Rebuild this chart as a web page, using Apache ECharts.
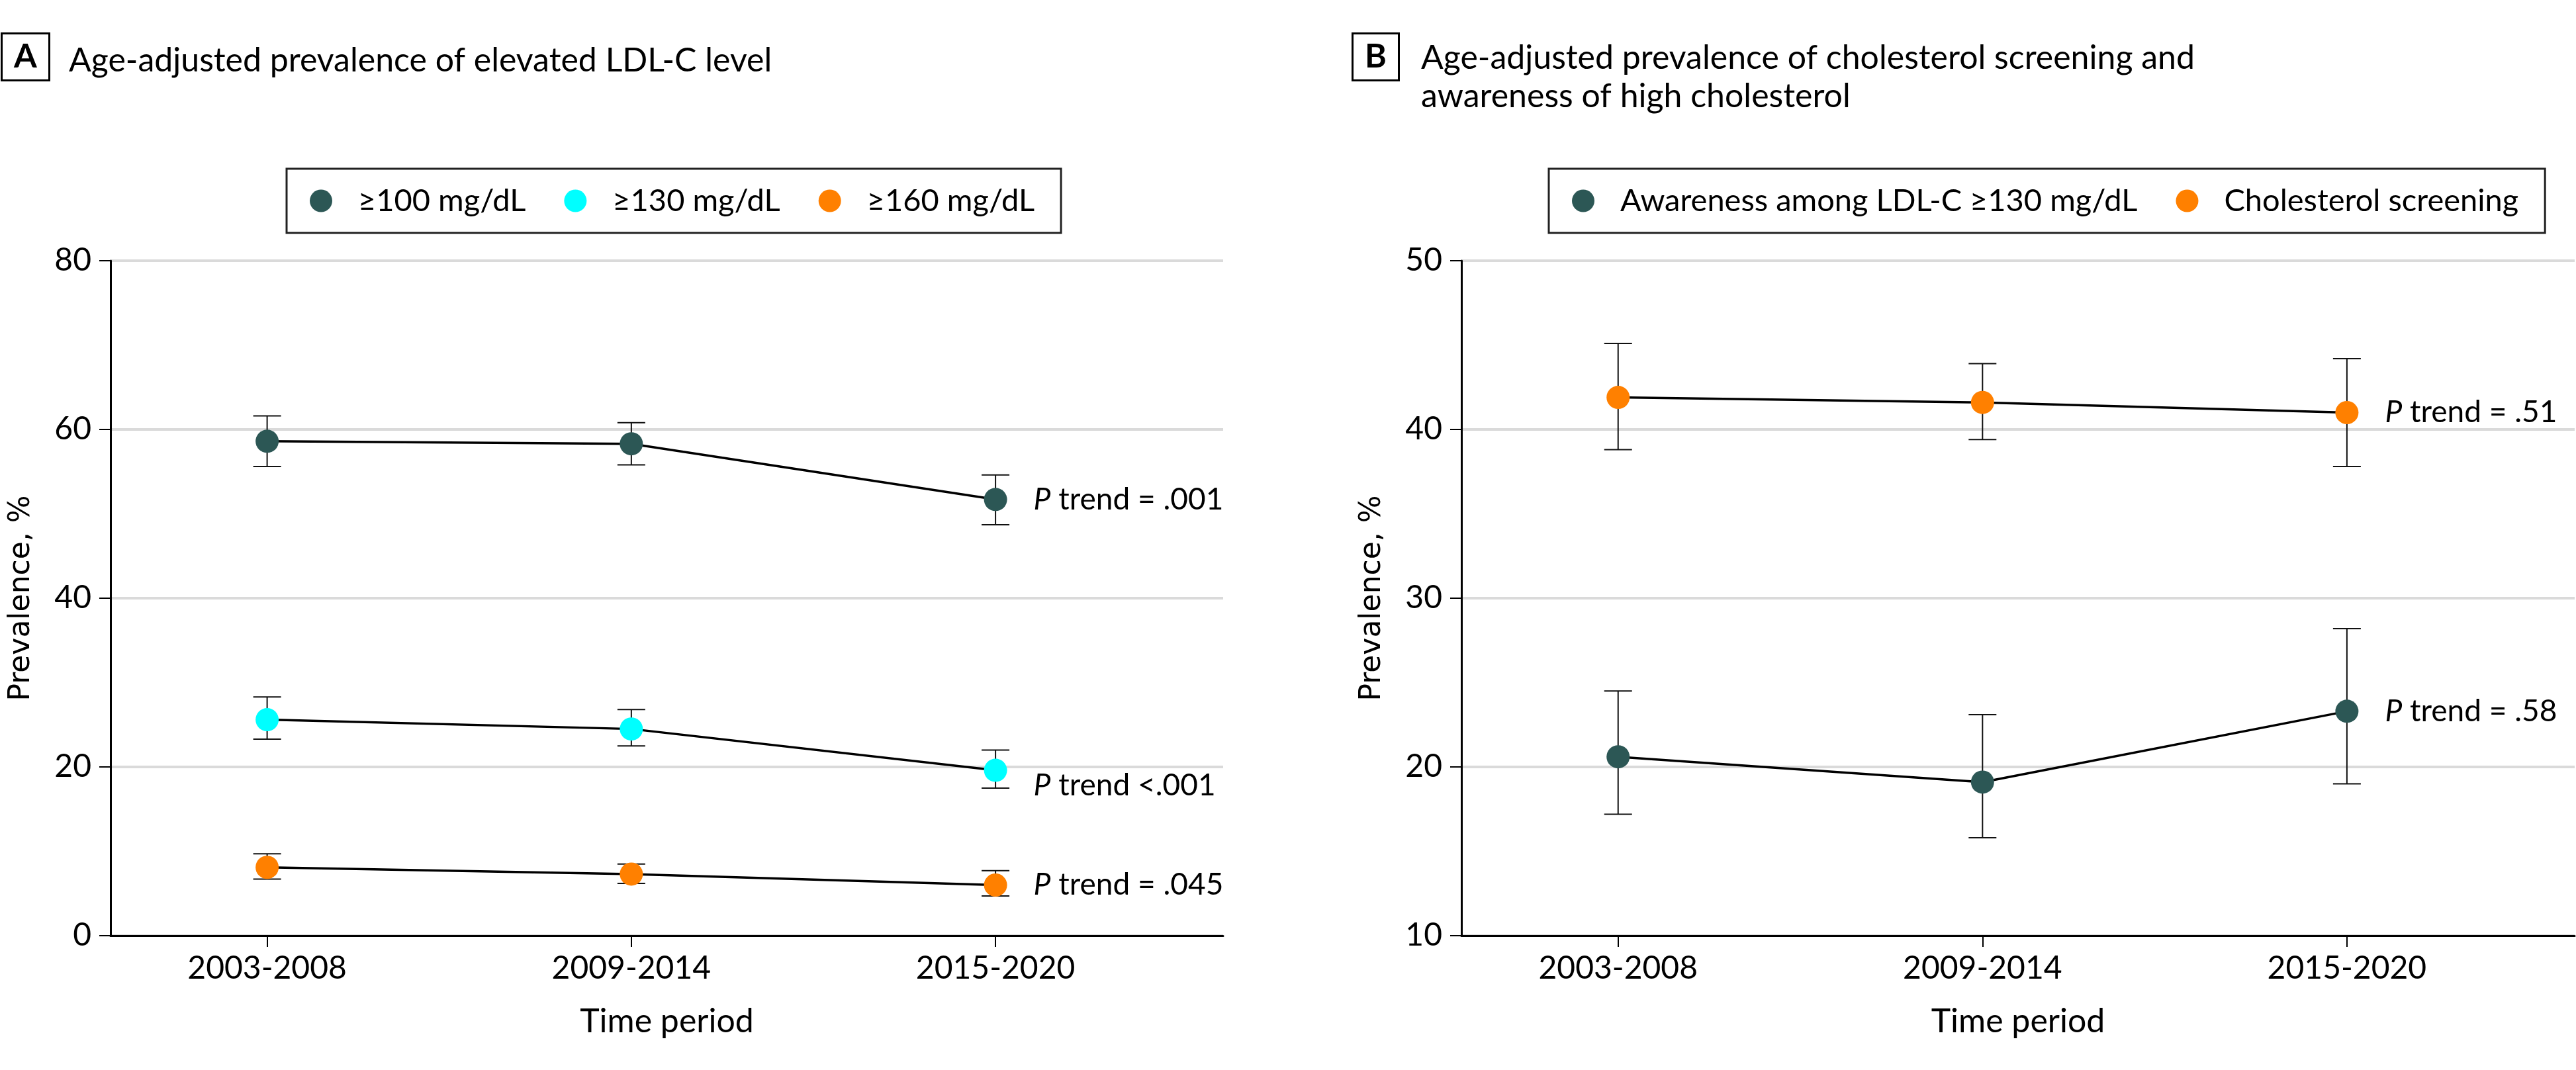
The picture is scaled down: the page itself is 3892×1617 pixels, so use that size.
<!DOCTYPE html>
<html>
<head>
<meta charset="utf-8">
<script src="https://cdn.jsdelivr.net/npm/echarts@6/dist/echarts.min.js"></script>
<style>
  html, body { margin: 0; padding: 0; background: #fff; }
  #chart { width: 3892px; height: 1617px; }
</style>
</head>
<body>
<div id="chart"></div>
<script>
// time periods on the x axis
const periods = ['2003-2008', '2009-2014', '2015-2020'];

// panel A: elevated LDL-C prevalence, %, with 95% CI
const ldl100 = [58.6, 58.3, 51.7];
const ldl100Lo = [55.6, 55.8, 48.7];
const ldl100Hi = [61.6, 60.8, 54.6];
const ldl130 = [25.6, 24.5, 19.6];
const ldl130Lo = [23.3, 22.5, 17.5];
const ldl130Hi = [28.3, 26.8, 22.0];
const ldl160 = [8.1, 7.3, 6.0];
const ldl160Lo = [6.7, 6.2, 4.7];
const ldl160Hi = [9.7, 8.5, 7.7];

// panel B: screening and awareness, %, with 95% CI
const awareness = [20.6, 19.1, 23.3];
const awarenessLo = [17.2, 15.8, 19.0];
const awarenessHi = [24.5, 23.1, 28.2];
const screening = [41.9, 41.6, 41.0];
const screeningLo = [38.8, 39.4, 37.8];
const screeningHi = [45.1, 43.9, 44.2];

// P for trend labels
const pA = ['= .001', '<.001', '= .045'];
const pB = ['= .58', '= .51'];

// y ticks
const yTicksA = [0, 20, 40, 60, 80];
const yTicksB = [10, 20, 30, 40, 50];

const FONT = 'Lato, "Open Sans", sans-serif';
const TEAL = '#2C5755';
const CYAN = '#00FFFF';
const ORANGE = '#FF8000';

const chart = echarts.init(document.getElementById('chart'));

const pts = (arr) => arr.map((v, i) => [i + 1, v]);
const ci = (lo, hi) => lo.map((v, i) => [i + 1, v, hi[i]]);

// error bar drawn through the axis scales
const errorBar = (xi, yi, lo, hi) => ({
  type: 'custom',
  xAxisIndex: xi,
  yAxisIndex: yi,
  z: 1,
  silent: true,
  data: ci(lo, hi),
  renderItem: (params, api) => {
    const top = api.coord([api.value(0), api.value(2)]);
    const bot = api.coord([api.value(0), api.value(1)]);
    const w = 21;
    const style = { stroke: '#111', lineWidth: 2 };
    return {
      type: 'group',
      children: [
        { type: 'line', shape: { x1: top[0], y1: top[1], x2: bot[0], y2: bot[1] }, style },
        { type: 'line', shape: { x1: top[0] - w, y1: top[1], x2: top[0] + w, y2: top[1] }, style },
        { type: 'line', shape: { x1: bot[0] - w, y1: bot[1], x2: bot[0] + w, y2: bot[1] }, style },
      ],
    };
  },
});

const lineSeries = (name, xi, yi, values, color, ptext, offY) => ({
  name: name,
  type: 'line',
  xAxisIndex: xi,
  yAxisIndex: yi,
  z: 3,
  data: pts(values),
  symbol: 'circle',
  symbolSize: 35,
  itemStyle: { color: color },
  lineStyle: { color: '#000', width: 3.5 },
  emphasis: { disabled: true },
  label: {
    show: true,
    position: 'right',
    distance: 40,
    offset: [0, offY || 0],
    color: '#000',
    fontSize: 46,
    fontFamily: FONT,
    formatter: (p) => (p.dataIndex === values.length - 1 ? '{i|P} trend ' + ptext : ''),
    rich: { i: { fontStyle: 'italic', fontSize: 46, fontFamily: FONT, color: '#000' } },
  },
});

const xAxis = (gi) => ({
  type: 'value',
  gridIndex: gi,
  min: 0.57,
  max: 3.625,
  name: 'Time period',
  nameLocation: 'middle',
  nameGap: 105,
  nameTextStyle: { fontSize: 50, fontFamily: FONT, color: '#000' },
  axisLine: { show: true, lineStyle: { color: '#000', width: 3 } },
  axisTick: { show: true, customValues: [1, 2, 3], length: 17, lineStyle: { color: '#000', width: 2 } },
  axisLabel: {
    customValues: [1, 2, 3],
    formatter: (v) => periods[v - 1],
    margin: 26,
    fontSize: 48,
    fontFamily: FONT,
    color: '#000',
  },
  splitLine: { show: false },
});

const yAxis = (gi, min, max, interval) => ({
  type: 'value',
  gridIndex: gi,
  min: min,
  max: max,
  interval: interval,
  name: 'Prevalence, %',
  nameLocation: 'middle',
  nameGap: 112,
  nameRotate: 90,
  nameTextStyle: { fontSize: 44, fontFamily: '"DejaVu Sans", sans-serif', color: '#000' },
  axisLine: { show: true, lineStyle: { color: '#000', width: 3 } },
  axisTick: { show: true, length: 17, lineStyle: { color: '#000', width: 2 } },
  axisLabel: { margin: 29, fontSize: 48, fontFamily: FONT, color: '#000' },
  splitLine: { show: true, lineStyle: { color: '#DADADA', width: 4 } },
});

const legend = (left, names) => ({
  left: left,
  top: 255,
  orient: 'horizontal',
  data: names,
  icon: 'circle',
  itemWidth: 34,
  itemHeight: 34,
  itemGap: 58,
  borderColor: '#222',
  borderWidth: 3,
  borderRadius: 0,
  padding: [25, 40, 25, 35],
  selectedMode: false,
  textStyle: { fontSize: 47, fontFamily: FONT, color: '#000', padding: [0, 0, 0, 34] },
});

const option = {
  animation: false,
  backgroundColor: '#fff',
  textStyle: { fontFamily: FONT },
  title: [
    {
      text: 'A', left: 2, top: 50, borderColor: '#000', borderWidth: 3,
      padding: [11, 19, 11, 19],
      textStyle: { fontSize: 50, fontWeight: 'bold', fontFamily: FONT, color: '#000', lineHeight: 50 },
    },
    {
      text: 'Age-adjusted prevalence of elevated LDL-C level', left: 104, top: 63, padding: 0,
      textStyle: { fontSize: 50, fontWeight: 'normal', fontFamily: FONT, color: '#000', lineHeight: 58 },
    },
    {
      text: 'B', left: 2043, top: 50, borderColor: '#000', borderWidth: 3,
      padding: [11, 19, 11, 19],
      textStyle: { fontSize: 50, fontWeight: 'bold', fontFamily: FONT, color: '#000', lineHeight: 50 },
    },
    {
      text: 'Age-adjusted prevalence of cholesterol screening and\nawareness of high cholesterol',
      left: 2147, top: 59, padding: 0,
      textStyle: { fontSize: 50, fontWeight: 'normal', fontFamily: FONT, color: '#000', lineHeight: 58 },
    },
  ],
  legend: [
    legend(433, ['≥100 mg/dL', '≥130 mg/dL', '≥160 mg/dL']),
    legend(2340, ['Awareness among LDL-C ≥130 mg/dL', 'Cholesterol screening']),
  ],
  grid: [
    { left: 167, right: 3892 - 1848, top: 394, bottom: 1617 - 1414 },
    { left: 2208, right: 2, top: 394, bottom: 1617 - 1414 },
  ],
  xAxis: [xAxis(0), xAxis(1)],
  yAxis: [yAxis(0, yTicksA[0], yTicksA[4], 20), yAxis(1, yTicksB[0], yTicksB[4], 10)],
  series: [
    errorBar(0, 0, ldl100Lo, ldl100Hi),
    errorBar(0, 0, ldl130Lo, ldl130Hi),
    errorBar(0, 0, ldl160Lo, ldl160Hi),
    errorBar(1, 1, awarenessLo, awarenessHi),
    errorBar(1, 1, screeningLo, screeningHi),
    lineSeries('≥100 mg/dL', 0, 0, ldl100, TEAL, pA[0]),
    lineSeries('≥130 mg/dL', 0, 0, ldl130, CYAN, pA[1], 23),
    lineSeries('≥160 mg/dL', 0, 0, ldl160, ORANGE, pA[2]),
    lineSeries('Awareness among LDL-C ≥130 mg/dL', 1, 1, awareness, TEAL, pB[0]),
    lineSeries('Cholesterol screening', 1, 1, screening, ORANGE, pB[1]),
  ],
};

chart.setOption(option);
</script>
</body>
</html>
